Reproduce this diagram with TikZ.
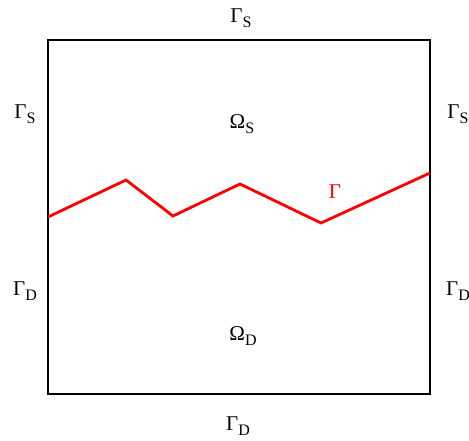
\documentclass[tikz,border=0pt]{standalone}
\usepackage{fontspec}
\setmainfont{Liberation Serif}
\newcommand{\lbl}[2]{{\fontsize{21}{24}\selectfont #1}{\fontsize{16}{18}\selectfont\raisebox{-4.5pt}{#2}}}
\begin{document}
\begin{tikzpicture}[x=1pt,y=-1pt,
  lab/.style={inner sep=0pt,anchor=center},
  border/.style={draw=black,line width=2.8pt},
  iface/.style={draw=red,line width=2.8pt,line join=miter}]
\useasboundingbox (0,0) rectangle (469,441);
\coordinate (bl) at (48,394);
\coordinate (tr) at (430,40);
\draw[border] (bl) rectangle (tr);
\coordinate (p1) at (48,217);
\coordinate (p2) at (126,180);
\coordinate (p3) at (173,216);
\coordinate (p4) at (240,184);
\coordinate (p5) at (321,223);
\coordinate (p6) at (430,173);
\draw[iface] (p1) -- (p2) -- (p3) -- (p4) -- (p5) -- (p6);
\node[lab] (gtop) at (241,18) {\lbl{Γ}{S}};
\node[lab] (gsl) at (25,114) {\lbl{Γ}{S}};
\node[lab] (gsr) at (458,114) {\lbl{Γ}{S}};
\node[lab] (os) at (242,124) {\lbl{Ω}{S}};
\node[lab,text=red] (g) at (335,192) {\fontsize{21}{24}\selectfont Γ};
\node[lab] (gdl) at (25,291) {\lbl{Γ}{D}};
\node[lab] (gdr) at (458,291) {\lbl{Γ}{D}};
\node[lab] (od) at (243,336) {\lbl{Ω}{D}};
\node[lab] (gbot) at (238,426) {\lbl{Γ}{D}};
\end{tikzpicture}
\end{document}
